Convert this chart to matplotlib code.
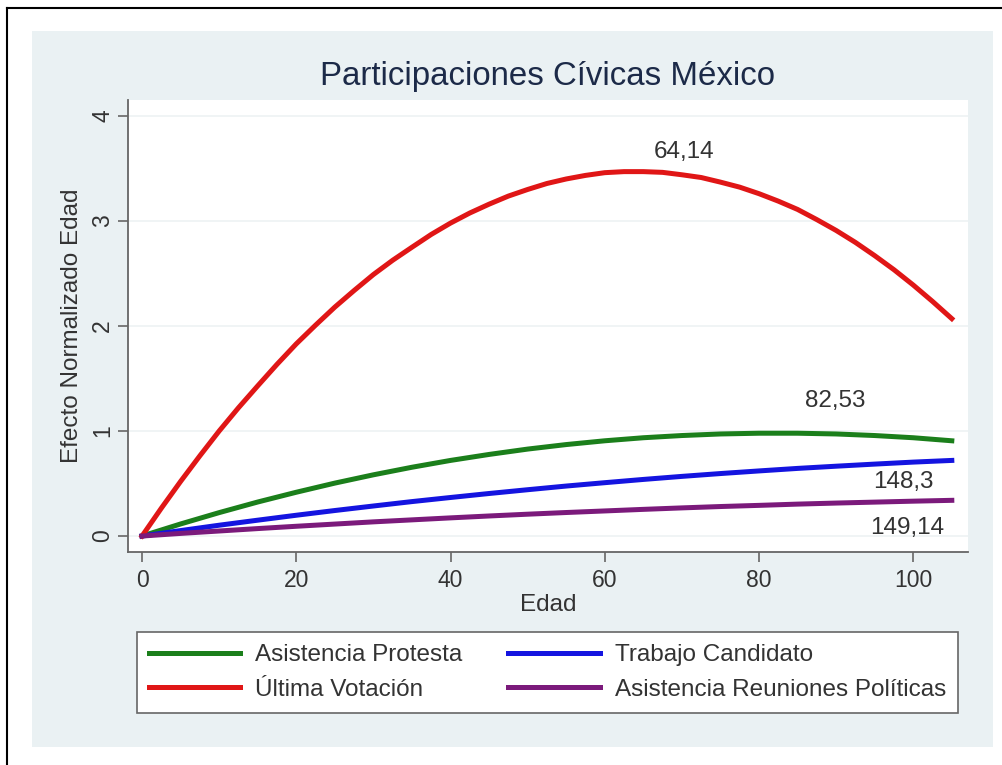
#!/usr/bin/env python3
"""Participaciones Cívicas México – efecto normalizado de la edad."""

import matplotlib
matplotlib.use('Agg')
import matplotlib.pyplot as plt
from matplotlib.patches import Rectangle
from matplotlib.lines import Line2D

plt.rcParams['font.family'] = ['Liberation Sans', 'DejaVu Sans']

# ── Data ──────────────────────────────────────────────────────────────────────
edad = [0, 5, 10, 15, 20, 25, 30, 35, 40, 45, 50,
        55, 60, 65, 70, 75, 80, 85, 90, 95, 100, 105]

# the voting curve bends strongly, so it was read at a finer step
edad_fina = [0, 2.5, 5, 7.5, 10, 12.5, 15, 17.5, 20, 22.5, 25, 27.5, 30, 32.5, 35,
             37.5, 40, 42.5, 45, 47.5, 50, 52.5, 55, 57.5, 60, 62.5, 65, 67.5, 70,
             72.5, 75, 77.5, 80, 82.5, 85, 87.5, 90, 92.5, 95, 97.5, 100, 102.5, 105]
ultima_votacion = [0.0, 0.265, 0.52, 0.764, 1.00, 1.221, 1.43, 1.635, 1.83, 2.008,
                   2.18, 2.338, 2.49, 2.626, 2.75, 2.872, 2.98, 3.076, 3.16, 3.237,
                   3.30, 3.357, 3.40, 3.434, 3.46, 3.470, 3.47, 3.463, 3.44, 3.414,
                   3.37, 3.322, 3.26, 3.189, 3.11, 3.013, 2.91, 2.796, 2.67, 2.536,
                   2.39, 2.234, 2.07]

asistencia_protesta = [0.0, 0.115, 0.223, 0.324, 0.417, 0.504, 0.583, 0.655, 0.720, 0.777, 0.828,
                       0.871, 0.907, 0.936, 0.957, 0.972, 0.979, 0.979, 0.972, 0.957, 0.936, 0.907]
trabajo_candidato = [0.0, 0.052, 0.103, 0.151, 0.198, 0.243, 0.286, 0.328, 0.367, 0.405, 0.441,
                     0.476, 0.508, 0.539, 0.568, 0.595, 0.620, 0.644, 0.665, 0.685, 0.704, 0.720]
reuniones_politicas = [0.0, 0.025, 0.048, 0.071, 0.093, 0.114, 0.135, 0.154, 0.173, 0.191, 0.208,
                       0.224, 0.239, 0.254, 0.268, 0.281, 0.292, 0.304, 0.314, 0.323, 0.332, 0.340]

# turning points shown as labels: (text, x, y)
etiquetas = [('64,14', 70.3, 3.66),
             ('82,53', 89.9, 1.29),
             ('148,3', 98.7, 0.51),
             ('149,14', 99.2, 0.08)]

x_ticks = [0, 20, 40, 60, 80, 100]
y_ticks = [0, 1, 2, 3, 4]

# ── Style ─────────────────────────────────────────────────────────────────────
W, H = 1003, 765
PANEL = '#EAF1F3'
TEXT = '#333333'
AXIS = '#666666'
FS = 17.5        # labels, legend, annotations
FS_TICK = 16.5

fig = plt.figure(figsize=(W / 100, H / 100), dpi=100)
fig.patch.set_facecolor('white')

# outer black frame (only left/top visible in the crop)
fig.add_artist(Line2D([7 / W, 7 / W], [0, 1 - 8 / H], color='black', lw=1.5))
fig.add_artist(Line2D([7 / W, 1], [1 - 8 / H, 1 - 8 / H], color='black', lw=1.5))

# light blue-grey graph region
fig.add_artist(Rectangle((32 / W, 1 - 747 / H), (993 - 32) / W, (747 - 31) / H,
                         facecolor=PANEL, edgecolor='none', zorder=0))

ax = fig.add_axes([128 / W, 1 - 552 / H, (968 - 128) / W, (552 - 100) / H])
ax.set_facecolor('white')

ax.plot(edad, asistencia_protesta, color='#1B7F1B', lw=3.6, label='Asistencia Protesta')
ax.plot(edad, trabajo_candidato, color='#1414E0', lw=3.6, label='Trabajo Candidato')
ax.plot(edad_fina, ultima_votacion, color='#E01616', lw=3.6, label='Última Votación')
ax.plot(edad, reuniones_politicas, color='#7B1A7B', lw=3.6,
        label='Asistencia Reuniones Políticas')

for txt, x, y in etiquetas:
    ax.text(x, y, txt, ha='center', va='center', fontsize=FS, color=TEXT)

ax.set_xlim(-1.82, 107.1)
ax.set_ylim(-0.152, 4.152)
ax.set_xticks(x_ticks)
ax.set_yticks(y_ticks)
ax.grid(axis='y', color='#EEF2F3', lw=1.2)
ax.set_axisbelow(True)

for side in ('top', 'right'):
    ax.spines[side].set_visible(False)
for side in ('left', 'bottom'):
    ax.spines[side].set_color(AXIS)
    ax.spines[side].set_linewidth(1.3)

ax.tick_params(axis='both', colors=AXIS, labelcolor=TEXT, labelsize=FS_TICK,
               length=7, width=1.2)
ax.tick_params(axis='x', pad=5)
ax.tick_params(axis='y', pad=3, labelrotation=90)
for lab in ax.get_yticklabels():
    lab.set_va('center')

# titles and axis labels placed like the Stata original
fig.text(548 / W, 1 - 77 / H, 'Participaciones Cívicas México',
         ha='center', va='center', fontsize=23.8, color='#1C2A48')
fig.text(548 / W, 1 - 605 / H, 'Edad', ha='center', va='center',
         fontsize=FS, color=TEXT)
fig.text(72 / W, 1 - 326 / H, 'Efecto Normalizado Edad', ha='center', va='center',
         rotation=90, fontsize=FS, color=TEXT)

# legend, order as in the original (column-wise)
h, l = ax.get_legend_handles_labels()
order = [0, 2, 1, 3]
leg = fig.legend([h[i] for i in order], [l[i] for i in order],
                 loc='center', ncol=2, mode='expand',
                 bbox_to_anchor=(137 / W, 1 - 713 / H, (958 - 137) / W, (713 - 632) / H),
                 fontsize=FS, handlelength=3.75, handletextpad=0.62,
                 labelspacing=0.52, borderpad=0.5, columnspacing=1.5,
                 fancybox=False, framealpha=1, edgecolor=AXIS, borderaxespad=0)
leg.get_frame().set_linewidth(1.2)
for t in leg.get_texts():
    t.set_color(TEXT)

fig.savefig('out.png', dpi=100, facecolor='white')
plt.close(fig)
